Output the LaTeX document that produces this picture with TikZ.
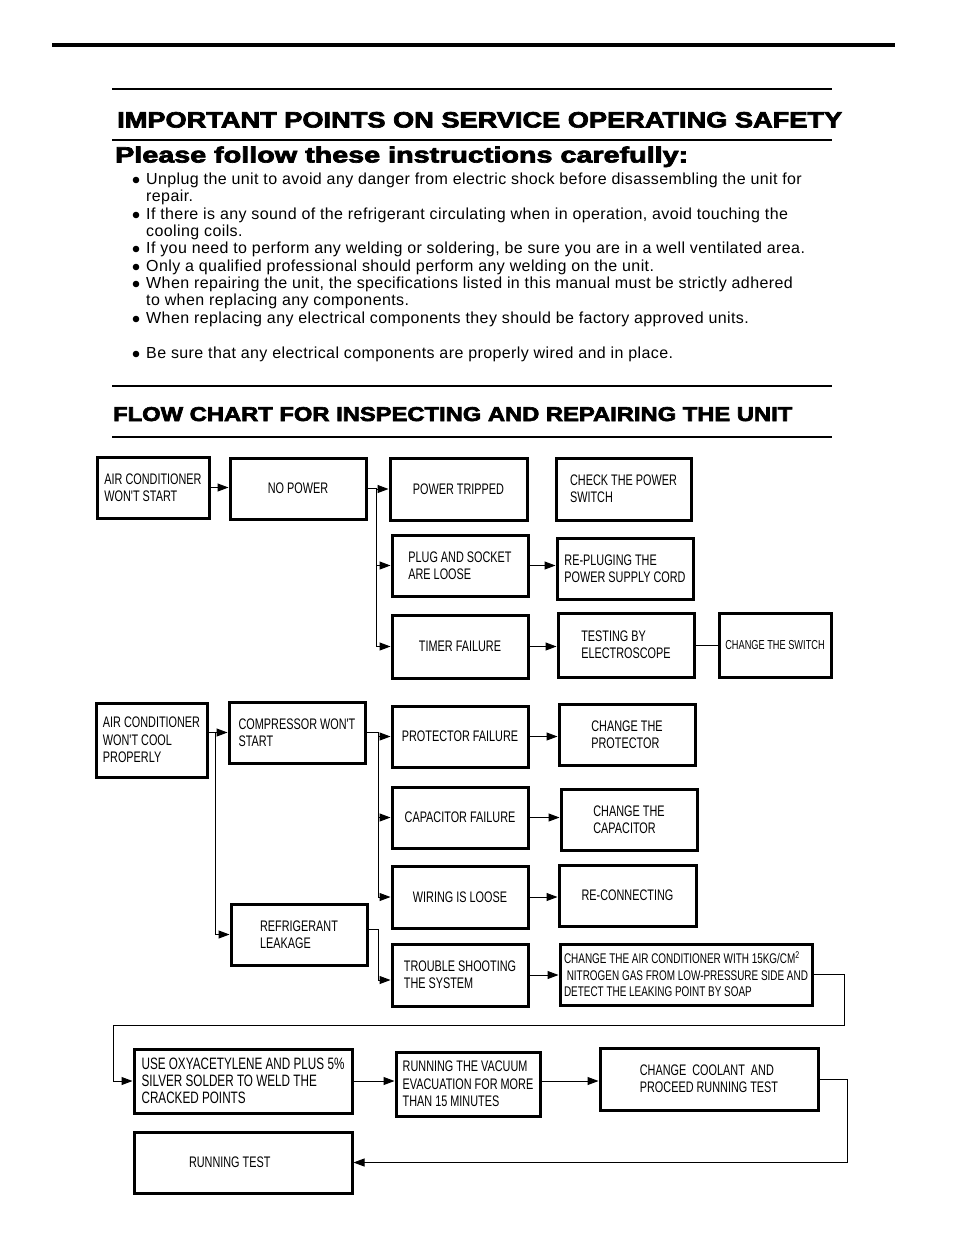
\documentclass[tikz,border=0pt]{standalone}
\usepackage{fontspec}
\setmainfont{Liberation Sans}
\newfontfamily\boxfont[FakeStretch=0.71]{Liberation Sans}
\newfontfamily\headfont[FakeBold=3]{Liberation Sans}
\newfontfamily\bodyfont[LetterSpace=2.5]{Liberation Sans}
\usetikzlibrary{arrows.meta}

\begin{document}
\begin{tikzpicture}[x=1pt,y=-1pt,
    box/.style={draw, line width=3pt, inner sep=0pt, align=left,
        minimum width=136pt, minimum height=61pt,
        font=\boxfont\fontsize{15.3}{17.3}\selectfont},
    arr/.style={line width=1pt, -{Triangle[length=11pt,width=8pt]}},
    link/.style={line width=1pt},
    item/.style={anchor=base west, inner sep=0pt,
        font=\bodyfont\fontsize{16}{17.3}\selectfont},
    heading/.style={anchor=base west, inner sep=0pt}]
    \path[use as bounding box] (0,0) rectangle (954,1235);

    % rules and headings
    \draw[line width=4pt] (52,45) -- (895,45);
    \draw[line width=1.3pt] (112,89) -- (832,89);
    \node[heading] (title) at (117,127.5)
        {\resizebox{725pt}{15.5pt}{\headfont\bfseries IMPORTANT POINTS ON SERVICE OPERATING SAFETY}};
    \draw[line width=2pt] (112,139.5) -- (832,139.5);
    \node[heading] (subtitle) at (115,162.5)
        {\resizebox{573pt}{16pt}{\headfont\bfseries Please follow these instructions carefully:}};

    % safety points
    \foreach \y in {180,215,249,267,284,319,354}
        \fill (136,\y) circle (3.3);
    \node[item] (u1) at (146,184.5) {Unplug the unit to avoid any danger from electric shock before disassembling the unit for};
    \node[item] (u1b) at (146,201.5) {repair.};
    \node[item] (u2) at (146,219.5) {If there is any sound of the refrigerant circulating when in operation, avoid touching the};
    \node[item] (u2b) at (146,236.5) {cooling coils.};
    \node[item] (u3) at (146,253.5) {If you need to perform any welding or soldering, be sure you are in a well ventilated area.};
    \node[item] (u4) at (146,271.5) {Only a qualified professional should perform any welding on the unit.};
    \node[item] (u5) at (146,288.5) {When repairing the unit, the specifications listed in this manual must be strictly adhered};
    \node[item] (u5b) at (146,305.5) {to when replacing any components.};
    \node[item] (u6) at (146,323.5) {When replacing any electrical components they should be factory approved units.};
    \node[item] (u7) at (146,358.5) {Be sure that any electrical components are properly wired and in place.};

    \draw[line width=1.3pt] (112,386) -- (832,386);
    \node[heading] (charttitle) at (113,421)
        {\resizebox{679pt}{14pt}{\headfont\bfseries FLOW CHART FOR INSPECTING AND REPAIRING THE UNIT}};
    \draw[line width=2pt] (112,437) -- (832,437);

    % no power
    \node[box, minimum width=112pt] (acstart) at (153,487.5) {AIR CONDITIONER\\WON'T START};
    \node[box] (nopower) at (298,488.5) {NO POWER};
    \node[box, minimum width=137pt, minimum height=62pt] (tripped) at (458.5,489) {POWER TRIPPED};
    \node[box, minimum width=135pt, minimum height=62pt] (chkswitch) at (623.5,489) {CHECK THE POWER\\SWITCH};
    \node[box] (plug) at (460,565.5) {PLUG AND SOCKET\\ARE LOOSE};
    \node[box] (replug) at (625,568.5) {RE-PLUGING THE\\POWER SUPPLY CORD};
    \node[box, minimum height=63pt] (timer) at (460,646.5) {TIMER FAILURE};
    \node[box, minimum height=64pt] (electro) at (626,645) {TESTING BY\\ELECTROSCOPE};
    \node[box, minimum width=112pt, minimum height=64pt,
        font=\boxfont\fontsize{13}{15}\selectfont] (chgswitch) at (775,645) {CHANGE THE SWITCH};

    \draw[arr] (acstart.east) -- (acstart.east -| nopower.west);
    \draw[link] (nopower.east) -- ++(9,0) coordinate (bus1);
    \draw[arr] (bus1) |- (tripped.west);
    \draw[arr] (bus1) |- (plug.west);
    \draw[arr] (bus1) |- (timer.west);
    \draw[arr] (plug.east) -- (plug.east -| replug.west);
    \draw[arr] (timer.east) -- (timer.east -| electro.west);
    \draw[link] (electro.east) -- (electro.east -| chgswitch.west);

    % no cooling
    \node[box, minimum width=111pt, minimum height=74pt] (accool) at (151.5,740) {AIR CONDITIONER\\WON'T COOL\\PROPERLY};
    \node[box] (compr) at (297,732.5) {COMPRESSOR WON'T\\START};
    \node[box] (protf) at (460,736.5) {PROTECTOR FAILURE};
    \node[box] (capf) at (460,817.5) {CAPACITOR FAILURE};
    \node[box, minimum height=62pt] (wiring) at (460,897) {WIRING IS LOOSE};
    \node[box] (refrig) at (299,934.5) {REFRIGERANT\\LEAKAGE};
    \node[box, minimum height=62pt] (trouble) at (460,975) {TROUBLE SHOOTING\\THE SYSTEM};
    \node[box] (chgprot) at (627,734.5) {CHANGE THE\\PROTECTOR};
    \node[box] (chgcap) at (629,819.5) {CHANGE THE\\CAPACITOR};
    \node[box, minimum width=137pt] (reconn) at (627.5,895.5) {RE-CONNECTING};
    \node[box, minimum width=252pt,
        font=\boxfont\fontsize{14}{16.5}\selectfont] (nitrogen) at (686,974.5)
        {CHANGE THE AIR CONDITIONER WITH 15KG/CM\textsuperscript{2}\\
         \ NITROGEN GAS FROM LOW-PRESSURE SIDE AND\\
         DETECT THE LEAKING POINT BY SOAP};

    \coordinate (bus2) at ([xshift=7pt]accool.east);
    \draw[arr] (accool.east |- compr.west) -- (compr.west);
    \draw[arr] (bus2 |- compr.west) |- (refrig.west);
    \draw[link] (compr.east) -- ++(12,0) coordinate (bus3);
    \draw[arr] (bus3) |- (protf.west);
    \draw[arr] (bus3) |- (capf.west);
    \draw[arr] (bus3) |- (wiring.west);
    \draw[arr] ([yshift=5pt]refrig.east) -- ++(10,0) |- ([yshift=-5pt]trouble.west);
    \draw[arr] (protf.east) -- (protf.east -| chgprot.west);
    \draw[arr] (capf.east) -- (capf.east -| chgcap.west);
    \draw[arr] (wiring.east) -- (wiring.east -| reconn.west);
    \draw[arr] (trouble.east) -- (trouble.east -| nitrogen.west);

    % repair
    \node[box, minimum width=218pt, minimum height=64pt,
        font=\boxfont\fontsize{16.5}{17.3}\selectfont] (weld) at (243,1081) {USE OXYACETYLENE AND PLUS 5\%\\SILVER SOLDER TO WELD THE\\CRACKED POINTS};
    \node[box, minimum width=144pt, minimum height=64pt] (vacuum) at (468,1084) {RUNNING THE VACUUM\\EVACUATION FOR MORE\\THAN 15 MINUTES};
    \node[box, minimum width=218pt, minimum height=62pt] (coolant) at (709,1079) {CHANGE\ \ COOLANT\ \ AND\\PROCEED RUNNING TEST};
    \node[box, minimum width=218pt, text width=108pt, align=flush left] (runtest) at (243,1162.5) {RUNNING TEST};

    \coordinate (turnR) at (844,1025);
    \coordinate (turnL) at (113,1025);
    \draw[arr] (nitrogen.east) -| (turnR) -- (turnL) |- (weld.west);
    \draw[arr] (weld.east) -- (weld.east -| vacuum.west);
    \draw[arr] (vacuum.east |- weld.east) -- (coolant.west |- weld.east);
    \draw[arr] (coolant.east) -- ++(28,0) |- (runtest.east);
\end{tikzpicture}
\end{document}
